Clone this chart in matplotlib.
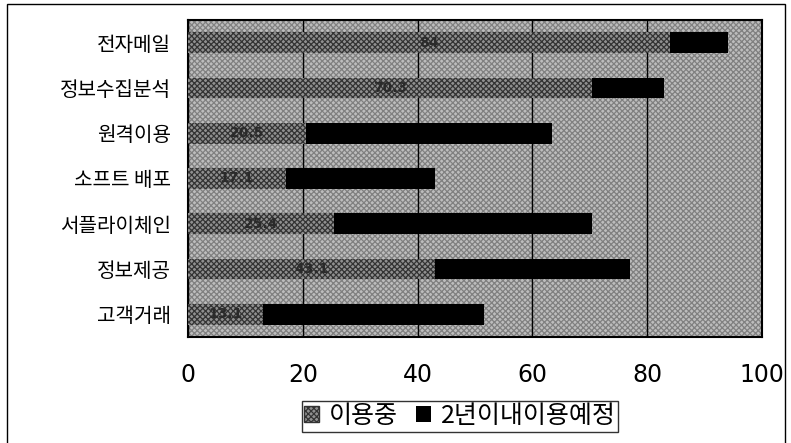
import matplotlib.pyplot as plt
from matplotlib.patches import Rectangle, Patch

plt.rcParams['font.family'] = ['Noto Sans CJK KR', 'DejaVu Sans']
plt.rcParams['hatch.linewidth'] = 0.9

# Data (top to bottom as shown)
categories = ['전자메일', '정보수집분석', '원격이용', '소프트 배포', '서플라이체인', '정보제공', '고객거래']
in_use = [84, 70.3, 20.5, 17.1, 25.4, 43.1, 13.1]
total_planned = [94, 83, 63.5, 43, 70.3, 77, 51.6]
value_labels = ['84', '70.3', '20.5', '17.1', '25.4', '43.1', '13.1']
xticks = [0, 20, 40, 60, 80, 100]

planned = [t - u for t, u in zip(total_planned, in_use)]

fig = plt.figure(figsize=(7.91, 4.43), dpi=100)
# outer frame of the chart
fig.patches.append(Rectangle((7 / 791, -0.05), 778 / 791, 1 - 4 / 443 + 0.05,
                             transform=fig.transFigure, fill=False,
                             edgecolor='black', linewidth=1.0))

ax = fig.add_axes([188 / 791, 1 - 337 / 443, 574 / 791, 317 / 443])

# stippled background of the plot area
ax.add_patch(Rectangle((0, 0), 1, 1, transform=ax.transAxes, facecolor='#bdbdbd',
                       hatch='xxxxxx', edgecolor='#808080', linewidth=0, zorder=0))

y = list(range(len(categories)))[::-1]
ax.barh(y, in_use, height=0.46, color='#909090', hatch='xxxxxx',
        edgecolor='#333333', linewidth=0, zorder=3, label='이용중')
ax.barh(y, planned, left=in_use, height=0.46, color='black',
        linewidth=0, zorder=3, label='2년이내이용예정')

for yi, u, lab in zip(y, in_use, value_labels):
    ax.text(u / 2, yi, lab, ha='center', va='center', fontsize=10,
            color='#2a2a2a', fontweight='bold', family='DejaVu Sans', zorder=4)

ax.set_xlim(0, 100)
ax.set_ylim(-0.5, len(categories) - 0.5)
ax.set_xticks(xticks)
ax.set_xticklabels([str(t) for t in xticks], fontsize=17, family='DejaVu Sans')
ax.set_yticks(y)
ax.set_yticklabels(categories, fontsize=14.5)
ax.tick_params(axis='both', length=0)
ax.tick_params(axis='x', pad=19)
ax.tick_params(axis='y', pad=12)
ax.xaxis.grid(True, color='black', linewidth=1.0, zorder=1)
ax.set_axisbelow(False)
for s in ax.spines.values():
    s.set_linewidth(1.5)

handles = [Patch(facecolor='#909090', hatch='xxxxxx', edgecolor='#333333', label='이용중'),
           Patch(facecolor='black', label='2년이내이용예정')]
fig.legend(handles=handles, loc='center', bbox_to_anchor=(460 / 791, 1 - 416 / 443),
           ncol=2, fontsize=18, frameon=True, fancybox=False, edgecolor='black',
           handlelength=0.6, handleheight=0.6, handletextpad=0.4, columnspacing=0.7,
           borderpad=0.1, borderaxespad=0)

fig.savefig('out.png', dpi=100)
